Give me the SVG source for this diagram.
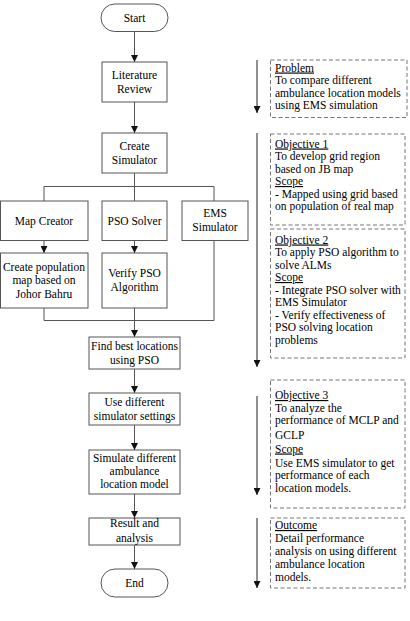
<svg xmlns="http://www.w3.org/2000/svg" width="410" height="621" viewBox="0 0 410 621">
<defs>
<style>
.n{fill:#fff;stroke:#555;stroke-width:1}
.d{fill:#fff;stroke:#777;stroke-width:1;stroke-dasharray:4 2.5}
text{font-family:"Liberation Serif","Times New Roman",serif;font-size:11.5px;fill:#000}
.c{text-anchor:middle}
.u{text-decoration:underline}
.l{fill:none;stroke:#555;stroke-width:1}
.a{fill:none;stroke:#555;stroke-width:1;marker-end:url(#ah)}
.r{fill:none;stroke:#222;stroke-width:1;marker-end:url(#ah)}
</style>
<marker id="ah" viewBox="0 0 8 8" refX="8" refY="4" markerWidth="7" markerHeight="7" markerUnits="userSpaceOnUse" orient="auto">
<path d="M0,0 L8,4 L0,8 z" fill="#111"/>
</marker>
</defs>
<rect width="410" height="621" fill="#fff"/>
<g id="connectors">
<line class="a" x1="134.5" y1="31.5" x2="134.5" y2="62"/>
<line class="a" x1="134.5" y1="102" x2="134.5" y2="133"/>
<polyline class="l" points="134.5,173 134.5,186.5"/>
<polyline class="l" points="44,201 44,186.5 214,186.5 214,201"/>
<line class="l" x1="134.5" y1="186.5" x2="134.5" y2="201"/>
<line class="a" x1="44" y1="240" x2="44" y2="253"/>
<line class="a" x1="134.5" y1="240" x2="134.5" y2="253"/>
<polyline class="l" points="44,308 44,320.5 214,320.5 214,240"/>
<line class="a" x1="134.5" y1="308" x2="134.5" y2="337"/>
<line class="a" x1="134.5" y1="369" x2="134.5" y2="393"/>
<line class="a" x1="134.5" y1="425" x2="134.5" y2="450"/>
<line class="a" x1="134.5" y1="494" x2="134.5" y2="518"/>
<line class="a" x1="134.5" y1="545" x2="134.5" y2="569"/>
<line class="r" x1="257" y1="60" x2="257" y2="113"/>
<line class="r" x1="257" y1="133" x2="257" y2="367"/>
<line class="r" x1="257" y1="396" x2="257" y2="495"/>
<line class="r" x1="257" y1="518" x2="257" y2="588"/>
</g>
<g id="start"><rect class="n" x="101" y="4" width="67" height="27.5" rx="13.75"/><text class="c" x="134.5" y="22">Start</text></g>
<g id="literature"><rect class="n" x="102" y="62" width="65" height="40"/><text class="c" x="134.5" y="79">Literature</text><text class="c" x="134.5" y="92.7">Review</text></g>
<g id="create-sim"><rect class="n" x="102" y="133" width="65" height="40"/><text class="c" x="134.5" y="150">Create</text><text class="c" x="134.5" y="164">Simulator</text></g>
<g id="map-creator"><rect class="n" x="0.5" y="201" width="87.5" height="39.5"/><text class="c" x="44" y="224.5">Map Creator</text></g>
<g id="pso-solver"><rect class="n" x="102" y="201" width="65" height="39.5"/><text class="c" x="134.5" y="224.5">PSO Solver</text></g>
<g id="ems-sim"><rect class="n" x="182" y="201" width="66" height="39.5"/><text class="c" x="215" y="216.7">EMS</text><text class="c" x="215" y="231">Simulator</text></g>
<g id="create-pop"><rect class="n" x="0.5" y="253" width="87.5" height="55"/><text class="c" x="44" y="270.7">Create population</text><text class="c" x="44" y="284">map based on</text><text class="c" x="44" y="297.5">Johor Bahru</text></g>
<g id="verify-pso"><rect class="n" x="102" y="253" width="65" height="55"/><text class="c" x="134.5" y="276.7">Verify PSO</text><text class="c" x="134.5" y="290.7">Algorithm</text></g>
<g id="find-best"><rect class="n" x="89" y="337" width="91" height="32"/><text class="c" x="134.5" y="350">Find best locations</text><text class="c" x="134.5" y="364">using PSO</text></g>
<g id="use-diff"><rect class="n" x="89" y="393" width="91" height="32"/><text class="c" x="134.5" y="405.7">Use different</text><text class="c" x="134.5" y="420">simulator settings</text></g>
<g id="simulate"><rect class="n" x="89" y="450" width="91" height="44"/><text class="c" x="134.5" y="461.7">Simulate different</text><text class="c" x="134.5" y="475">ambulance</text><text class="c" x="134.5" y="488.3">location model</text></g>
<g id="result"><rect class="n" x="89" y="518" width="91" height="27"/><text class="c" x="134.5" y="527.3">Result and</text><text class="c" x="134.5" y="541.7">analysis</text></g>
<g id="end"><rect class="n" x="101" y="569" width="67" height="28" rx="14"/><text class="c" x="134.5" y="586.5">End</text></g>
<g id="problem"><rect class="d" x="270.5" y="60" width="136.5" height="57.5"/>
<text x="275" y="71.5"><tspan class="u">Problem</tspan></text>
<text x="275" y="84">To compare different</text>
<text x="275" y="96.5">ambulance location models</text>
<text x="275" y="109">using EMS simulation</text></g>
<g id="objective1"><rect class="d" x="270.5" y="134" width="134.5" height="91"/>
<text x="275" y="147.5"><tspan class="u">Objective 1</tspan></text>
<text x="275" y="160">To develop grid region</text>
<text x="275" y="172.5">based on JB map</text>
<text x="275" y="185"><tspan class="u">Scope</tspan></text>
<text x="275" y="197.5">- Mapped using grid based</text>
<text x="275" y="210">on population of real map</text></g>
<g id="objective2"><rect class="d" x="270.5" y="229" width="134.5" height="129"/>
<text x="275" y="243.5"><tspan class="u">Objective 2</tspan></text>
<text x="275" y="256">To apply PSO algorithm to</text>
<text x="275" y="268.5">solve ALMs</text>
<text x="275" y="281"><tspan class="u">Scope</tspan></text>
<text x="275" y="293.5">- Integrate PSO solver with</text>
<text x="275" y="306">EMS Simulator</text>
<text x="275" y="318.5">- Verify effectiveness of</text>
<text x="275" y="331">PSO solving location</text>
<text x="275" y="343.5">problems</text></g>
<g id="objective3"><rect class="d" x="270.5" y="380" width="134.5" height="128"/>
<text x="275" y="399"><tspan class="u">Objective 3</tspan></text>
<text x="275" y="411.7">To analyze the</text>
<text x="275" y="424.3">performance of MCLP and</text>
<text x="275" y="438.5">GCLP</text>
<text x="275" y="452.5"><tspan class="u">Scope</tspan></text>
<text x="275" y="466.5">Use EMS simulator to get</text>
<text x="275" y="479">performance of each</text>
<text x="275" y="491.7">location models.</text></g>
<g id="outcome"><rect class="d" x="270.5" y="518" width="134.5" height="70"/>
<text x="275" y="529"><tspan class="u">Outcome</tspan></text>
<text x="275" y="542">Detail performance</text>
<text x="275" y="555">analysis on using different</text>
<text x="275" y="567.5">ambulance location</text>
<text x="275" y="580.5">models.</text></g>
</svg>
